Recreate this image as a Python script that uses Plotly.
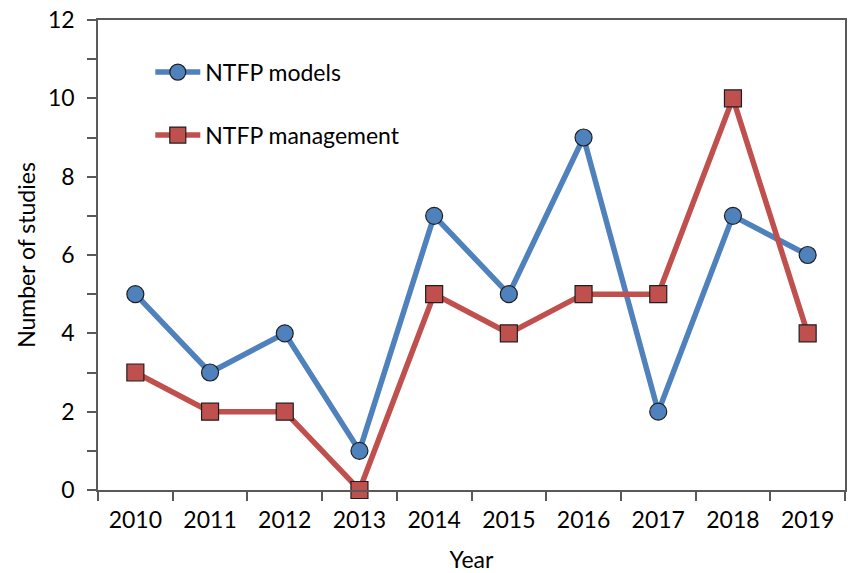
import plotly.graph_objects as go

years = [2010, 2011, 2012, 2013, 2014, 2015, 2016, 2017, 2018, 2019]
ntfp_models = [5, 3, 4, 1, 7, 5, 9, 2, 7, 6]
ntfp_management = [3, 2, 2, 0, 5, 4, 5, 5, 10, 4]

BLUE = "#4F81BD"
RED = "#C0504D"
EDGE = "#1F1F1F"
AXIS = "#595959"
FONT = "Lato, Open Sans, sans-serif"
FS = 23

fig = go.Figure()
fig.add_trace(go.Scatter(
    x=years, y=ntfp_models, mode="lines+markers", name="NTFP models",
    line=dict(color=BLUE, width=5.5),
    marker=dict(symbol="circle", size=17, color=BLUE, line=dict(color=EDGE, width=1.2)),
    cliponaxis=False, legend="legend",
))
fig.add_trace(go.Scatter(
    x=years, y=ntfp_management, mode="lines+markers", name="NTFP management",
    line=dict(color=RED, width=5.5),
    marker=dict(symbol="square", size=17, color=RED, line=dict(color=EDGE, width=1.2)),
    cliponaxis=False, legend="legend2",
))

halves = [y - 0.5 for y in years] + [years[-1] + 0.5]

fig.update_layout(
    width=848, height=573,
    margin=dict(l=98, r=3, t=20, b=83),
    paper_bgcolor="white", plot_bgcolor="white",
    font=dict(family=FONT, size=FS, color="black"),
    showlegend=True,
    legend=dict(x=0.07, y=0.889, xanchor="left", yanchor="middle", itemwidth=45,
                bgcolor="rgba(0,0,0,0)", font=dict(size=FS)),
    legend2=dict(x=0.07, y=0.755, xanchor="left", yanchor="middle", itemwidth=45,
                 bgcolor="rgba(0,0,0,0)", font=dict(size=FS)),
    xaxis=dict(
        range=[2009.5, 2019.5], tickmode="array", tickvals=years,
        ticktext=[str(y) for y in years], ticks="", showgrid=False, automargin=False,
        zeroline=False, showline=True, linecolor=AXIS, linewidth=1.5, mirror=True,
        ticklabelstandoff=9, ticklabeloverflow="allow",
        minor=dict(tickmode="array", tickvals=halves, ticks="outside", ticklen=9,
                   tickcolor=AXIS, tickwidth=1.5, showgrid=False),
        title=dict(text="Year", standoff=22, font=dict(size=FS)),
        tickfont=dict(size=FS),
    ),
    yaxis=dict(
        range=[0, 12], tickmode="linear", tick0=0, dtick=2, ticks="outside",
        ticklen=9, tickcolor=AXIS, tickwidth=1.5, showgrid=False, zeroline=False,
        showline=True, linecolor=AXIS, linewidth=1.5, mirror=True, automargin=False,
        ticklabelstandoff=8, ticklabeloverflow="allow",
        minor=dict(dtick=1, ticks="outside", ticklen=9, tickcolor=AXIS, tickwidth=1.5,
                   showgrid=False),
        title=dict(text="Number of studies", standoff=6, font=dict(size=FS)),
        tickfont=dict(size=FS),
    ),
)

fig.write_html(
    "out.html",
    config={"displayModeBar": False},
    post_script="document.body.style.margin='0';document.body.style.overflow='hidden';",
)
